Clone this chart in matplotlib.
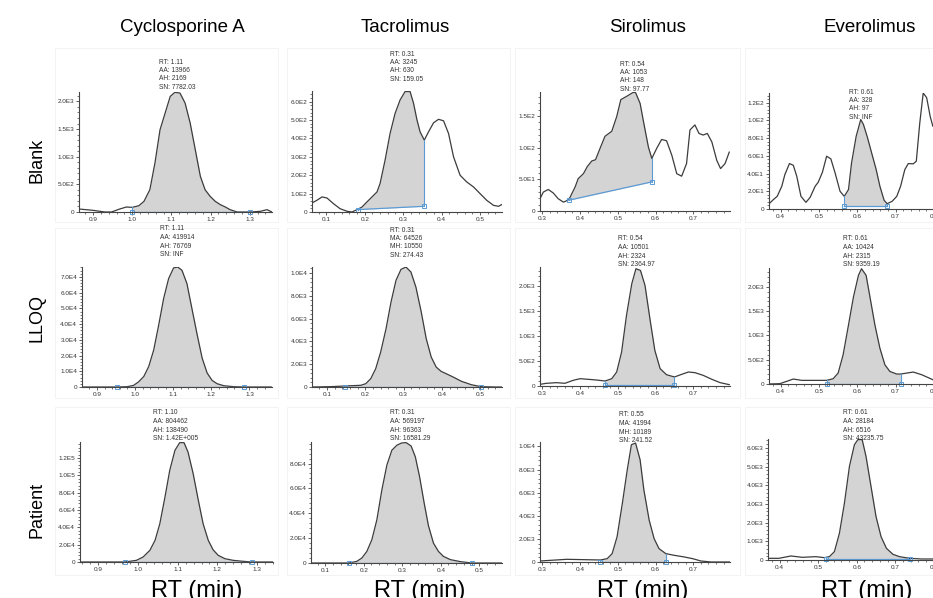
import numpy as np
import matplotlib
matplotlib.use('Agg')
import matplotlib.pyplot as plt
from matplotlib.ticker import MultipleLocator, AutoMinorLocator, FuncFormatter

plt.rcParams['font.family'] = ['Liberation Sans', 'DejaVu Sans']

# ---- data ----
compounds = ['Cyclosporine A', 'Tacrolimus', 'Sirolimus', 'Everolimus']
samples = ['Blank', 'LLOQ', 'Patient']

# Blank row
csa_blank_x = [0.864, 0.900, 0.930, 0.947, 0.968, 0.985, 1.000, 1.017, 1.030, 1.045, 1.058, 1.071,
               1.084, 1.097, 1.109, 1.122, 1.135, 1.148, 1.161, 1.174, 1.186, 1.199, 1.212, 1.225,
               1.238, 1.250, 1.268, 1.302, 1.327, 1.344, 1.357]
csa_blank_y = [54, 30, 0, 0, 54, 90, 84, 114, 193, 404, 886, 1488, 1789, 2090, 2165, 2150, 1970,
               1608, 1127, 645, 404, 283, 193, 133, 90, 42, 0, 0, 12, 42, 0]
tac_blank_x = [0.063, 0.076, 0.089, 0.102, 0.119, 0.136, 0.154, 0.167, 0.180, 0.193, 0.206, 0.219,
               0.232, 0.240, 0.253, 0.266, 0.279, 0.292, 0.305, 0.318, 0.327, 0.336, 0.344, 0.355,
               0.366, 0.379, 0.392, 0.405, 0.418, 0.431, 0.448, 0.465, 0.483, 0.500, 0.517, 0.535,
               0.548, 0.556]
tac_blank_y = [49, 64, 82, 76, 45, 18, 4, 0, 13, 27, 55, 82, 109, 155, 282, 427, 536, 609, 655, 655,
               591, 500, 436, 391, 436, 485, 504, 496, 427, 300, 200, 164, 136, 100, 64, 36, 31, 40]
sir_blank_x = [0.294, 0.303, 0.316, 0.329, 0.342, 0.356, 0.364, 0.373, 0.387, 0.395, 0.409, 0.419,
               0.431, 0.441, 0.453, 0.466, 0.484, 0.497, 0.508, 0.523, 0.541, 0.547, 0.559, 0.569,
               0.581, 0.590, 0.603, 0.616, 0.629, 0.643, 0.656, 0.669, 0.682, 0.691, 0.704, 0.715,
               0.726, 0.737, 0.749, 0.762, 0.772, 0.784, 0.795]
sir_blank_y = [19.5, 30, 34, 28.5, 19.5, 14, 16, 21, 38, 51, 59, 70, 79, 81, 99, 118, 126, 149, 176,
               181, 187.5, 187, 170, 138, 101, 83, 99, 113, 111, 88, 59, 55, 75, 128, 136, 122.5,
               120, 122.5, 109, 80, 67, 75, 93]
eve_blank_x = [0.370, 0.381, 0.391, 0.403, 0.411, 0.423, 0.433, 0.442, 0.453, 0.466, 0.477, 0.490,
               0.498, 0.509, 0.520, 0.531, 0.542, 0.555, 0.566, 0.577, 0.585, 0.597, 0.609, 0.616,
               0.626, 0.637, 0.649, 0.659, 0.670, 0.678, 0.691, 0.703, 0.713, 0.724, 0.733, 0.746,
               0.754, 0.763, 0.772, 0.781, 0.790, 0.797]
eve_blank_y = [6, 10.6, 14.3, 25.7, 38.9, 51.3, 49.4, 37, 14.3, 7.5, 13.2, 25.7, 30.2, 41.5, 59.6,
               56.6, 40.8, 20, 14.3, 21.9, 52, 82, 101, 95.5, 81.5, 64, 45, 25.7, 9.8, 6, 8.7, 14.3,
               25.7, 44.5, 51.3, 51, 54, 97, 131, 125.7, 105, 93.6]

# LLOQ row
csa_lloq_x = [0.861, 0.952, 0.979, 0.996, 1.009, 1.023, 1.036, 1.049, 1.062, 1.075, 1.088, 1.101,
              1.112, 1.123, 1.136, 1.149, 1.163, 1.176, 1.189, 1.202, 1.215, 1.233, 1.259, 1.285, 1.357]
csa_lloq_y = [0, 0, 200, 1000, 3200, 6700, 13100, 23600, 39400, 56300, 68900, 75700, 76300, 74200,
              65800, 50000, 33100, 18300, 8900, 4200, 2100, 800, 200, 0, 0]
tac_lloq_x = [0.061, 0.109, 0.148, 0.188, 0.201, 0.214, 0.227, 0.240, 0.254, 0.267, 0.280, 0.293,
              0.306, 0.319, 0.332, 0.346, 0.359, 0.372, 0.385, 0.398, 0.411, 0.429, 0.451, 0.477,
              0.502, 0.539, 0.557]
tac_lloq_y = [0, 30, 90, 150, 290, 730, 1610, 3070, 5120, 7460, 9360, 10320, 10530, 10090, 8770,
              6580, 4240, 2630, 1750, 1370, 1170, 880, 500, 200, 30, 0, 0]
sir_lloq_x = [0.294, 0.311, 0.338, 0.360, 0.382, 0.400, 0.422, 0.444, 0.466, 0.484, 0.497, 0.510,
              0.523, 0.537, 0.548, 0.560, 0.572, 0.585, 0.598, 0.612, 0.629, 0.650, 0.669, 0.687,
              0.704, 0.726, 0.749, 0.771, 0.795]
sir_lloq_y = [33, 54, 67, 54, 114, 147, 134, 120, 100, 147, 281, 682, 1418, 2054, 2355, 2321, 2020,
              1351, 716, 348, 227, 181, 234, 281, 268, 214, 134, 67, 27]
eve_lloq_x = [0.370, 0.398, 0.416, 0.433, 0.455, 0.485, 0.520, 0.537, 0.550, 0.563, 0.577, 0.590,
              0.603, 0.611, 0.623, 0.633, 0.646, 0.659, 0.672, 0.685, 0.703, 0.713, 0.729, 0.746,
              0.768, 0.797]
eve_lloq_y = [0, 7, 55, 102, 75, 75, 75, 109, 225, 601, 1215, 1795, 2239, 2375, 2239, 1795, 1215,
              737, 396, 259, 205, 205, 225, 246, 191, 89]

# Patient row
csa_pat_x = [0.854, 0.967, 0.996, 1.013, 1.030, 1.043, 1.055, 1.068, 1.080, 1.093, 1.105, 1.116,
             1.126, 1.139, 1.152, 1.164, 1.177, 1.189, 1.202, 1.219, 1.240, 1.265, 1.286, 1.340]
csa_pat_y = [0, 0, 1900, 5800, 13500, 25000, 44200, 75000, 105800, 128800, 137700, 137700, 126900,
             101900, 71100, 44200, 25000, 14200, 7700, 3800, 1900, 800, 0, 0]
tac_pat_x = [0.063, 0.161, 0.182, 0.195, 0.208, 0.221, 0.234, 0.247, 0.260, 0.273, 0.286, 0.298,
             0.310, 0.323, 0.334, 0.345, 0.357, 0.368, 0.381, 0.394, 0.407, 0.425, 0.451, 0.481, 0.559]
tac_pat_y = [0, 0, 1300, 4000, 9300, 18700, 34700, 58700, 78700, 90700, 94700, 96500, 96800, 94100,
             85300, 69300, 48000, 30000, 16000, 9300, 5300, 2700, 1100, 0, 0]
sir_pat_x = [0.294, 0.365, 0.409, 0.454, 0.472, 0.485, 0.498, 0.512, 0.525, 0.536, 0.547, 0.559,
             0.569, 0.583, 0.596, 0.609, 0.627, 0.649, 0.676, 0.698, 0.720, 0.747, 0.800]
sir_pat_y = [87, 232, 203, 174, 290, 725, 2174, 5072, 7971, 10145, 10290, 8841, 6232, 3623, 2029,
             1159, 725, 580, 435, 290, 87, 0, 0]
eve_pat_x = [0.368, 0.398, 0.429, 0.459, 0.494, 0.516, 0.529, 0.542, 0.555, 0.568, 0.581, 0.594,
             0.603, 0.614, 0.624, 0.637, 0.650, 0.663, 0.677, 0.694, 0.711, 0.737, 0.768, 0.797]
eve_pat_y = [90, 90, 215, 143, 179, 125, 179, 448, 1433, 3045, 5015, 6179, 6448, 6448, 5552, 3940,
             2328, 1254, 627, 304, 179, 90, 54, 54]

# integration: start RT, start baseline, end RT, end baseline
csa_blank_int = (1.000, 0, 1.302, 0)
tac_blank_int = (0.182, 13, 0.355, 31)
sir_blank_int = (0.370, 17, 0.590, 46)
eve_blank_int = (0.566, 3.8, 0.678, 3.8)
csa_lloq_int = (0.952, 0, 1.285, 0)
tac_lloq_int = (0.148, 20, 0.502, 20)
sir_lloq_int = (0.466, 13, 0.650, 13)
eve_lloq_int = (0.520, 10, 0.713, 10)
csa_pat_int = (0.967, 0, 1.286, 0)
tac_pat_int = (0.161, 0, 0.481, 0)
sir_pat_int = (0.454, 0, 0.627, 0)
eve_pat_int = (0.520, 60, 0.737, 60)

# peak result labels
csa_blank_lab = ['RT: 1.11', 'AA: 13966', 'AH: 2169', 'SN: 7782.03']
tac_blank_lab = ['RT: 0.31', 'AA: 3245', 'AH: 630', 'SN: 159.05']
sir_blank_lab = ['RT: 0.54', 'AA: 1053', 'AH: 148', 'SN: 97.77']
eve_blank_lab = ['RT: 0.61', 'AA: 328', 'AH: 97', 'SN: INF']
csa_lloq_lab = ['RT: 1.11', 'AA: 419914', 'AH: 76769', 'SN: INF']
tac_lloq_lab = ['RT: 0.31', 'MA: 64526', 'MH: 10550', 'SN: 274.43']
sir_lloq_lab = ['RT: 0.54', 'AA: 10501', 'AH: 2324', 'SN: 2364.97']
eve_lloq_lab = ['RT: 0.61', 'AA: 10424', 'AH: 2315', 'SN: 9359.19']
csa_pat_lab = ['RT: 1.10', 'AA: 804462', 'AH: 138490', 'SN: 1.42E+005']
tac_pat_lab = ['RT: 0.31', 'AA: 569197', 'AH: 96363', 'SN: 16581.29']
sir_pat_lab = ['RT: 0.55', 'MA: 41994', 'MH: 10189', 'SN: 241.52']
eve_pat_lab = ['RT: 0.61', 'AA: 28184', 'AH: 6516', 'SN: 43235.75']

# ---- layout (pixels) ----
W, H = 933, 598
CURVE = '#3c3c3c'
FILL = '#d4d4d4'
BLUE = '#5b9bd5'


def box(l, r, t, b):
    return [l / W, 1 - b / H, (r - l) / W, (b - t) / H]


def efmt(v, pos):
    if abs(v) < 1e-9:
        return '0'
    e = int(np.floor(np.log10(abs(v)) + 1e-9))
    return '%.1fE%d' % (v / 10 ** e, e)


panels = [
    # x, y, integration, labels, axes box (l, r, t, b), xlim, ytop, ystep, label pos
    (csa_blank_x, csa_blank_y, csa_blank_int, csa_blank_lab, (79, 272, 92, 212), (0.864, 1.357), 2170, 500, (159, 62)),
    (tac_blank_x, tac_blank_y, tac_blank_int, tac_blank_lab, (312, 502, 91, 212), (0.063, 0.557), 658, 100, (390, 54)),
    (sir_blank_x, sir_blank_y, sir_blank_int, sir_blank_lab, (540, 730, 92, 211), (0.294, 0.797), 188, 50, (620, 64)),
    (eve_blank_x, eve_blank_y, eve_blank_int, eve_blank_lab, (769, 960, 93, 209), (0.3696, 0.868), 131, 20, (849, 92)),
    (csa_lloq_x, csa_lloq_y, csa_lloq_int, csa_lloq_lab, (82, 272, 267, 387), (0.861, 1.359), 76300, 10000, (160, 229)),
    (tac_lloq_x, tac_lloq_y, tac_lloq_int, tac_lloq_lab, (312, 502, 267, 387), (0.0605, 0.557), 10530, 2000, (390, 230)),
    (sir_lloq_x, sir_lloq_y, sir_lloq_int, sir_lloq_lab, (540, 730, 267, 386), (0.294, 0.797), 2390, 500, (618, 239)),
    (eve_lloq_x, eve_lloq_y, eve_lloq_int, eve_lloq_lab, (769, 960, 268, 384), (0.3696, 0.868), 2390, 500, (843, 239)),
    (csa_pat_x, csa_pat_y, csa_pat_int, csa_pat_lab, (80, 273, 442, 562), (0.854, 1.340), 138500, 20000, (153, 413)),
    (tac_pat_x, tac_pat_y, tac_pat_int, tac_pat_lab, (311, 502, 442, 563), (0.063, 0.559), 97300, 20000, (390, 413)),
    (sir_pat_x, sir_pat_y, sir_pat_int, sir_pat_lab, (540, 730, 442, 562), (0.294, 0.797), 10380, 2000, (619, 415)),
    (eve_pat_x, eve_pat_y, eve_pat_int, eve_pat_lab, (768, 960, 439, 560), (0.3696, 0.868), 6480, 1000, (843, 413)),
]

fig = plt.figure(figsize=(9.33, 5.98), dpi=100)

# faint frames around each chromatogram
frame_cols = [(55, 278), (287, 510), (515, 740), (745, 945)]
frame_rows = [(48, 222), (228, 398), (407, 575)]
for (ft, fb) in frame_rows:
    for (fl, fr) in frame_cols:
        fig.add_artist(plt.Rectangle((fl / W, 1 - fb / H), (fr - fl) / W, (fb - ft) / H,
                                     transform=fig.transFigure, fill=False,
                                     ec='#f3f3f3', lw=0.7))

for x, y, integ, lab, bx, xl, ytop, ystep, tpos in panels:
    ax = fig.add_axes(box(*bx))
    x = np.asarray(x, float)
    y = np.asarray(y, float)
    xs, ys, xe, ye = integ
    cs = np.interp(xs, x, y)
    ce = np.interp(xe, x, y)
    m = (x > xs) & (x < xe)
    px = np.concatenate([[xs], x[m], [xe]])
    py = np.concatenate([[cs], y[m], [ce]])
    base = ys + (px - xs) * (ye - ys) / (xe - xs)
    ax.fill_between(px, base, py, color=FILL, lw=0)
    ax.plot(x, y, color=CURVE, lw=0.9)
    ax.plot([xs, xe], [ys, ye], color=BLUE, lw=0.9)
    ax.plot([xs, xs], [ys, cs], color=BLUE, lw=0.8)
    ax.plot([xe, xe], [ye, ce], color=BLUE, lw=0.8)
    ax.plot([xs, xe], [ys, ye], 's', mfc='none', mec=BLUE, ms=3, mew=0.7, clip_on=False)

    ax.set_xlim(*xl)
    ax.set_ylim(0, ytop)
    ax.xaxis.set_major_locator(MultipleLocator(0.1))
    ax.xaxis.set_minor_locator(AutoMinorLocator(5))
    ax.xaxis.set_major_formatter(FuncFormatter(lambda v, p: '%.1f' % v))
    ax.yaxis.set_major_locator(MultipleLocator(ystep))
    ax.yaxis.set_minor_locator(AutoMinorLocator(5))
    ax.yaxis.set_major_formatter(FuncFormatter(efmt))
    ax.tick_params(which='major', length=2.5, width=0.6, labelsize=4.6, pad=1,
                   color='#444444', labelcolor='#333333')
    ax.tick_params(which='minor', length=1.3, width=0.5, color='#444444')
    for s in ('top', 'right'):
        ax.spines[s].set_visible(False)
    for s in ('left', 'bottom'):
        ax.spines[s].set_linewidth(0.8)
        ax.spines[s].set_color('#444444')
    ax.patch.set_alpha(0)

    fig.text(tpos[0] / W, 1 - (tpos[1] - 3.5) / H, '\n'.join(lab), fontsize=4.8,
             ha='left', va='top', linespacing=1.3, color='#333333')

# column titles, row labels, axis labels
title_x = [182, 405, 648, 870]
for name, cx in zip(compounds, title_x):
    fig.text(cx / W, 1 - 27 / H, name, fontsize=13.5, ha='center', va='center')

row_y = [160, 318, 510]
for name, ry in zip(samples, row_y):
    fig.text(37 / W, 1 - ry / H, name, fontsize=13, rotation=90, ha='center', va='center')

xlab_x = [197, 420, 643, 867]
for cx in xlab_x:
    fig.text(cx / W, 1 - 580 / H, 'RT (min)', fontsize=17, ha='center', va='top')

fig.savefig('out.png', dpi=100)
